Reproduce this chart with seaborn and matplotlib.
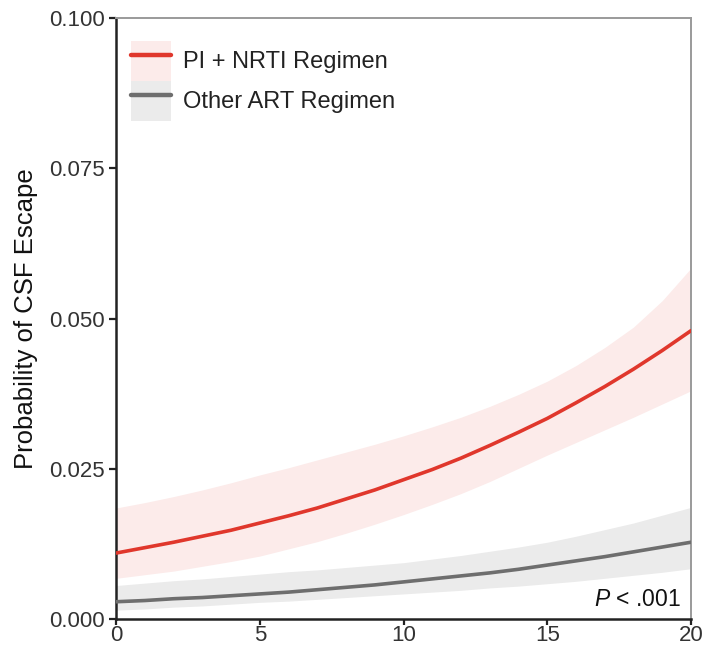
import matplotlib
matplotlib.use("Agg")
import matplotlib.pyplot as plt
import seaborn as sns
import pandas as pd
from matplotlib.patches import Patch
from matplotlib.lines import Line2D
from matplotlib.legend_handler import HandlerTuple

# ---- data ----
x_vals = list(range(0, 21))
pi_mean = [0.0110, 0.0119, 0.0128, 0.0138, 0.0148, 0.0160, 0.0172, 0.0185, 0.0200, 0.0215,
           0.0232, 0.0249, 0.0268, 0.0289, 0.0311, 0.0334, 0.0360, 0.0387, 0.0416, 0.0447, 0.0480]
pi_upper = [0.0185, 0.0194, 0.0204, 0.0215, 0.0227, 0.0240, 0.0252, 0.0265, 0.0278, 0.0291,
            0.0305, 0.0320, 0.0336, 0.0354, 0.0374, 0.0396, 0.0422, 0.0452, 0.0486, 0.0530, 0.0584]
pi_lower = [0.0068, 0.0074, 0.0080, 0.0088, 0.0096, 0.0105, 0.0117, 0.0129, 0.0143, 0.0158,
            0.0174, 0.0191, 0.0209, 0.0229, 0.0251, 0.0273, 0.0294, 0.0315, 0.0336, 0.0358, 0.0380]
other_mean = [0.0029, 0.0031, 0.0034, 0.0036, 0.0039, 0.0042, 0.0045, 0.0049, 0.0053, 0.0057,
              0.0062, 0.0067, 0.0072, 0.0077, 0.0083, 0.0090, 0.0097, 0.0104, 0.0112, 0.0120, 0.0128]
other_upper = [0.0056, 0.0060, 0.0064, 0.0067, 0.0071, 0.0075, 0.0079, 0.0082, 0.0086, 0.0090,
               0.0094, 0.0100, 0.0106, 0.0113, 0.0120, 0.0128, 0.0138, 0.0149, 0.0160, 0.0173, 0.0186]
other_lower = [0.0015, 0.0017, 0.0020, 0.0022, 0.0025, 0.0028, 0.0030, 0.0033, 0.0036, 0.0039,
               0.0042, 0.0045, 0.0048, 0.0052, 0.0055, 0.0059, 0.0063, 0.0068, 0.0073, 0.0078, 0.0084]
series_names = ["PI + NRTI Regimen", "Other ART Regimen"]
x_ticks = [0, 5, 10, 15, 20]
y_ticks = [0.000, 0.025, 0.050, 0.075, 0.100]
y_tick_labels = ["0.000", "0.025", "0.050", "0.075", "0.100"]
y_label = "Probability of CSF Escape"
p_text = "$P$ < .001"

line_colors = ["#e0372c", "#6e6e6e"]
band_colors = ["#fcebea", "#ebebeb"]

sns.set_theme(style="white")
plt.rcParams["font.family"] = ["Liberation Sans", "DejaVu Sans"]
plt.rcParams["mathtext.fontset"] = "custom"
plt.rcParams["mathtext.it"] = "Liberation Sans:italic"
plt.rcParams["mathtext.rm"] = "Liberation Sans"

df = pd.DataFrame({
    "x": x_vals * 2,
    "p": pi_mean + other_mean,
    "group": [series_names[0]] * len(x_vals) + [series_names[1]] * len(x_vals),
})

fig = plt.figure(figsize=(7.04, 6.48), dpi=100)
ax = fig.add_axes([0.165, 0.0445, 0.8165, 0.9275])

ax.fill_between(x_vals, pi_lower, pi_upper, color=band_colors[0], lw=0, zorder=1)
ax.fill_between(x_vals, other_lower, other_upper, color=band_colors[1], lw=0, zorder=1)
sns.lineplot(data=df, x="x", y="p", hue="group", palette=line_colors, linewidth=2.6,
             ax=ax, legend=False, zorder=3)

ax.set_xlim(0, 20)
ax.set_ylim(0, 0.100)
ax.set_xticks(x_ticks)
ax.set_xticklabels([str(t) for t in x_ticks])
ax.set_yticks(y_ticks)
ax.set_yticklabels(y_tick_labels)
ax.set_xlabel("")
ax.set_ylabel(y_label, fontsize=18.5, color="#111111", labelpad=8)
ax.tick_params(axis="both", which="both", direction="out", width=1.6,
               color="#222222", labelsize=16, labelcolor="#333333",
               left=True, bottom=True)
ax.tick_params(axis="y", length=5, pad=3)
ax.tick_params(axis="x", length=4, pad=0.5)

for side in ["left", "bottom"]:
    ax.spines[side].set_color("#222222")
    ax.spines[side].set_linewidth(1.8)
for side in ["top", "right"]:
    ax.spines[side].set_color("#9a9a9a")
    ax.spines[side].set_linewidth(1.4)

handles = []
for lc, bc in zip(line_colors, band_colors):
    handles.append((Patch(facecolor=bc, edgecolor="none"),
                    Line2D([0], [0], color=lc, lw=3.2)))
leg = ax.legend(handles, series_names, handler_map={tuple: HandlerTuple(ndivide=1, pad=0)},
                loc="upper left", bbox_to_anchor=(0.026, 0.962), frameon=False,
                fontsize=17, handlelength=1.7, handleheight=2.23, handletextpad=0.5,
                labelspacing=0.0, borderaxespad=0.0, borderpad=0.0, labelcolor="#222222")

ax.text(0.982, 0.022, p_text, transform=ax.transAxes, ha="right", va="baseline",
        fontsize=16.5, color="#111111")

fig.savefig("out.png", dpi=100)
